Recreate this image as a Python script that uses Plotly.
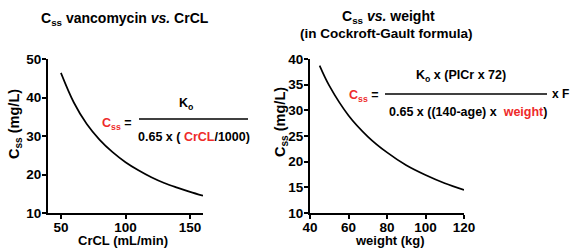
import plotly.graph_objects as go

# ---- data ----
crcl = [50, 60, 70, 80, 90, 100, 110, 120, 130, 140, 150, 160]
css_crcl = [46.4, 38.7, 33.1, 29.0, 25.8, 23.2, 21.1, 19.3, 17.8, 16.6, 15.5, 14.5]

weight = [45, 50, 60, 70, 80, 90, 100, 110, 120]
css_weight = [38.7, 34.8, 29.0, 24.9, 21.8, 19.3, 17.4, 15.8, 14.5]

left_xticks = [50, 100, 150]
left_yticks = [10, 20, 30, 40, 50]
right_xticks = [40, 60, 80, 100, 120]
right_yticks = [10, 15, 20, 25, 30, 35, 40]

W, H = 570, 249
FONT = "Liberation Sans, Arial, sans-serif"
RED = "#ee2a2a"

# plot area in page pixels: x 48..464, y 59..213
ML, MT = 48, 59
MR, MB = W - 464, H - 213
PW = W - ML - MR
PH = H - MT - MB


def px(x):
    """page pixel x -> paper coordinate"""
    return (x - ML) / PW


def py(y):
    """page pixel y -> paper coordinate"""
    return (H - MB - y) / PH


fig = go.Figure()
fig.add_trace(go.Scatter(x=crcl, y=css_crcl, mode="lines",
                         line=dict(color="black", width=1.7, shape="spline"),
                         xaxis="x", yaxis="y", showlegend=False, cliponaxis=False))
fig.add_trace(go.Scatter(x=weight, y=css_weight, mode="lines",
                         line=dict(color="black", width=1.7, shape="spline"),
                         xaxis="x2", yaxis="y2", showlegend=False, cliponaxis=False))

axis_common = dict(showline=True, linecolor="black", linewidth=2, ticks="outside",
                   ticklen=4, tickwidth=2, tickcolor="black", showgrid=False,
                   zeroline=False, automargin=False,
                   tickfont=dict(family=FONT, size=13.5, color="black", weight="bold"))
xaxis_extra = dict(ticklabelstandoff=-3)
yaxis_extra = dict(ticklabelstandoff=-2)

fig.update_layout(
    width=W, height=H,
    margin=dict(l=ML, r=MR, t=MT, b=MB, autoexpand=False),
    paper_bgcolor="white", plot_bgcolor="white",
    font=dict(family=FONT, color="black"),
    xaxis=dict(domain=[0, px(203)], range=[40, 160], tickvals=left_xticks,
               anchor="y", **axis_common, **xaxis_extra),
    yaxis=dict(domain=[0, 1], range=[10, 50], tickvals=left_yticks,
               anchor="x", **axis_common, **yaxis_extra),
    xaxis2=dict(domain=[px(310), 1], range=[40, 120], tickvals=right_xticks,
                anchor="y2", **axis_common, **xaxis_extra),
    yaxis2=dict(domain=[0, 1], range=[10, 40], tickvals=right_yticks,
                anchor="x2", **axis_common, **yaxis_extra),
)


def ann(text, x, y, size=12.5, xanchor="center", color="black", angle=0):
    fig.add_annotation(text=text, x=px(x), y=py(y), xref="paper", yref="paper",
                       showarrow=False, xanchor=xanchor, yanchor="middle",
                       textangle=angle,
                       font=dict(family=FONT, size=size, color=color))


# titles
ann("<b>C<sub>ss</sub> vancomycin <i>vs.</i> CrCL</b>", 125, 19, size=14)
ann("<b>C<sub>ss</sub> <i>vs.</i> weight</b>", 388, 17, size=14)
ann("<b>(in Cockroft-Gault formula)</b>", 386, 33, size=13.5)

# axis titles
ann("<b>CrCL (mL/min)</b>", 123, 240, size=13)
ann("<b>weight (kg)</b>", 390, 240, size=13)
ann("<b>C<sub>ss</sub> (mg/L)</b>", 15, 124, size=14.5, angle=-90)
ann("<b>C<sub>ss</sub> (mg/L)</b>", 281, 122, size=14.5, angle=-90)

# left formula
ann(f"<b><span style='color:{RED}'>C<sub>ss</sub></span> =</b>", 100, 124, xanchor="left")
ann("<b>K<sub>o</sub></b>", 186, 104)
ann(f"<b>0.65 x ( <span style='color:{RED}'>CrCL</span>/1000)</b>", 194, 137)
fig.add_shape(type="line", xref="paper", yref="paper",
              x0=px(139), x1=px(248), y0=py(119), y1=py(119),
              line=dict(color="black", width=1.5))

# right formula
ann(f"<b><span style='color:{RED}'>C<sub>ss</sub></span> =</b>", 347, 96, xanchor="left")
ann("<b>K<sub>o</sub> x (PICr x 72)</b>", 461, 76)
ann(f"<b>0.65 x ((140-age) x&nbsp; <span style='color:{RED}'>weight</span>)</b>", 468, 112)
ann("<b>x F</b>", 550, 94, size=12, xanchor="left")
fig.add_shape(type="line", xref="paper", yref="paper",
              x0=px(385), x1=px(547), y0=py(94), y1=py(94),
              line=dict(color="black", width=1.5))

fig.write_html(
    "out.html",
    config={"displayModeBar": False},
    post_script="document.body.style.margin='0';document.body.style.overflow='hidden';",
)
